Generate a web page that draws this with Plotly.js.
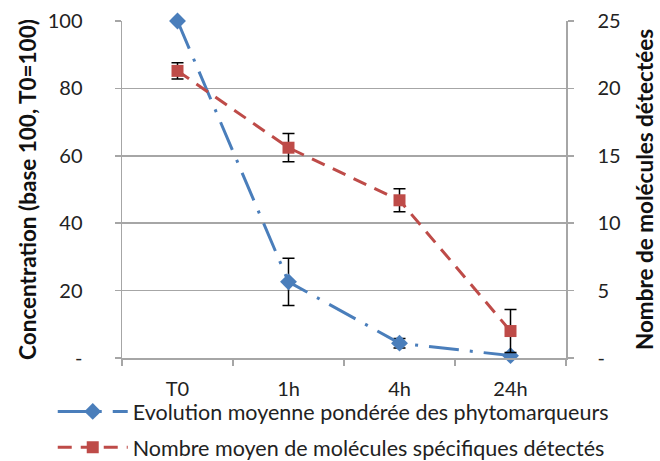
<!DOCTYPE html>
<html><head><meta charset="utf-8">
<script src="https://cdn.plot.ly/plotly-3.0.1.min.js"></script>
<style>body{margin:0;padding:0;background:#fff}#chart{width:660px;height:461px}</style>
</head><body><div id="chart"></div>
<script>
const categories = ["T0", "1h", "4h", "24h"];
const concentration = [100, 22.6, 4.4, 0.7];
const concentrationErr = [0, 7, 1.4, 0];
const molecules = [21.3, 15.6, 11.7, 2.0];
const moleculesErr = [0.6, 1.05, 0.85, 1.6];
const leftTicks = [0, 20, 40, 60, 80, 100];
const leftTickText = ["-", "20", "40", "60", "80", "100"];
const rightTicks = [0, 5, 10, 15, 20, 25];
const rightTickText = ["-", "5", "10", "15", "20", "25"];

const FONT = "Lato, 'Liberation Sans', sans-serif";
const grid = "#a6a6a6";
const traces = [
  {
    x: categories, y: concentration, type: "scatter", mode: "lines+markers",
    name: "Evolution moyenne pondérée des phytomarqueurs", legendgroup: "a",
    line: {color: "#4a7ebb", width: 3, dash: "30px,11px,3px,11px"},
    marker: {symbol: "diamond", size: 13, color: "#4a7ebb"},
    error_y: {type: "data", array: concentrationErr, color: "#000", thickness: 1.5, width: 6},
    cliponaxis: false
  },
  {
    x: categories, y: molecules, type: "scatter", mode: "lines+markers", yaxis: "y2",
    name: "Nombre moyen de molécules spécifiques détectés", legendgroup: "b",
    line: {color: "#be4b48", width: 3, dash: "14px,9px"},
    marker: {symbol: "square", size: 12, color: "#be4b48"},
    error_y: {type: "data", array: moleculesErr, color: "#000", thickness: 1.5, width: 6},
    cliponaxis: false
  }
];
const layout = {
  width: 660, height: 461,
  margin: {l: 122, r: 94, t: 21, b: 103},
  paper_bgcolor: "#fff", plot_bgcolor: "#fff",
  font: {family: FONT, size: 20, color: "#222"},
  showlegend: true,
  legend: {orientation: "v", x: -0.156, xanchor: "left", yref: "container", y: 0.152, yanchor: "top",
           itemwidth: 70, traceorder: "grouped", tracegroupgap: 5,
           font: {family: FONT, size: 21.5, color: "#222"}, bgcolor: "rgba(0,0,0,0)"},
  xaxis: {type: "category", range: [-0.5, 3.5], showgrid: false, showline: true, linecolor: grid, linewidth: 1.5,
          ticks: "outside", tickson: "boundaries", ticklen: 6, tickcolor: grid, tickwidth: 1.5, ticklabelstandoff: 12,
          tickfont: {family: FONT, size: 20, color: "#222"}, zeroline: false, fixedrange: true},
  yaxis: {range: [0, 100], tickvals: leftTicks, ticktext: leftTickText, showgrid: true, gridcolor: grid, gridwidth: 1.5,
          showline: true, linecolor: grid, linewidth: 1.5, ticks: "outside", ticklen: 6, tickcolor: grid, tickwidth: 1.5,
          ticklabelstandoff: 28, zeroline: false, tickfont: {family: FONT, size: 20, color: "#222"},
          title: {text: "Concentration (base 100, T0=100)", font: {family: FONT, size: 22.5, color: "#111", weight: "bold"}, standoff: 5}},
  yaxis2: {range: [0, 25], overlaying: "y", side: "right", tickvals: rightTicks, ticktext: rightTickText, showgrid: false,
          showline: true, linecolor: grid, linewidth: 1.5, ticks: "outside", ticklen: 6, tickcolor: grid, tickwidth: 1.5,
          ticklabelstandoff: 20, zeroline: false, tickfont: {family: FONT, size: 20, color: "#222"},
          title: {text: "Nombre de molécules détectées", font: {family: FONT, size: 22.5, color: "#111", weight: "bold"}, standoff: 17}}
};
Plotly.newPlot("chart", traces, layout, {staticPlot: true, displayModeBar: false});
</script></body></html>
